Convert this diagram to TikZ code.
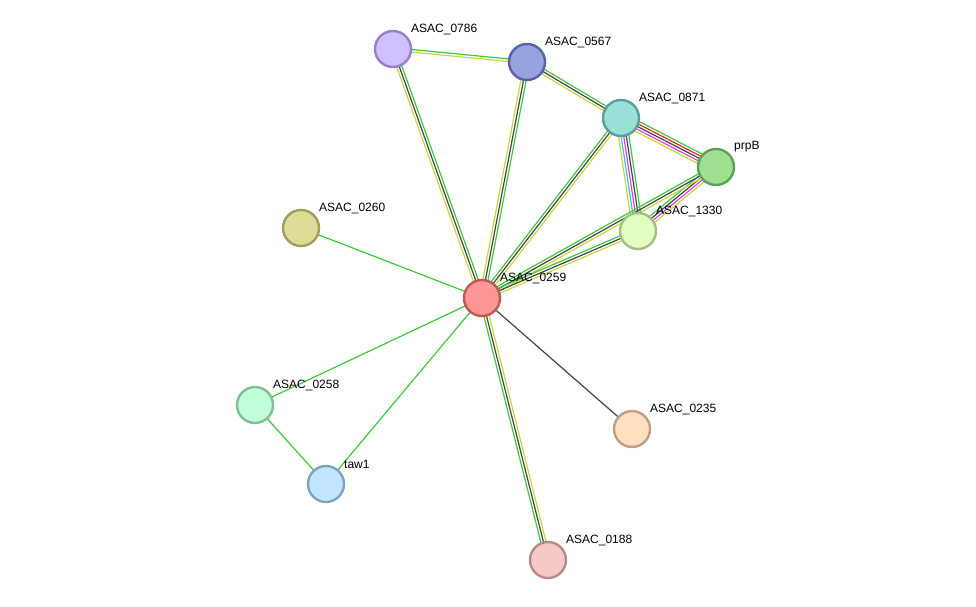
\documentclass[tikz,border=0pt]{standalone}
\usepackage{fontspec}
\setmainfont{Liberation Sans}
\usetikzlibrary{calc,backgrounds}
\definecolor{eg}{HTML}{3DC83D}
\definecolor{ek}{HTML}{454545}
\definecolor{ey}{HTML}{C5D83C}
\definecolor{er}{HTML}{E82828}
\definecolor{em}{HTML}{E040E0}
\definecolor{ec}{HTML}{3CC0E8}
\newcommand\medge[4]{%
  \foreach \cc [count=\ii] in {#4} {%
    \pgfmathsetmacro\off{(\ii-1-(#3-1)/2)*2.6}%
    \draw[\cc, line width=1.2pt] ($(#1.center)!\off pt!90:(#2.center)$) -- ($(#2.center)!\off pt!-90:(#1.center)$);
  }%
}
\tikzset{
  prot/.style={circle, minimum size=36pt, inner sep=0pt, line width=2.4pt},
  lbl/.style={anchor=west, inner sep=0pt, font=\fontsize{12}{14}\selectfont, text=black},
}
\begin{document}
\begin{tikzpicture}[x=1pt,y=-1pt]
\useasboundingbox (0,0) rectangle (976,606);
\node[prot, fill={rgb,255:red,208;green,191;blue,255}, draw={rgb,255:red,150;green,128;blue,200}] (a0786) at (393,49) {};
\node[prot, fill={rgb,255:red,152;green,162;blue,222}, draw={rgb,255:red,86;green,99;blue,168}] (a0567) at (527,62) {};
\node[prot, fill={rgb,255:red,152;green,224;blue,216}, draw={rgb,255:red,91;green,158;blue,154}] (a0871) at (621,118) {};
\node[prot, fill={rgb,255:red,160;green,224;blue,147}, draw={rgb,255:red,94;green,160;blue,90}] (prpB) at (716,167) {};
\node[prot, fill={rgb,255:red,224;green,255;blue,192}, draw={rgb,255:red,162;green,192;blue,132}] (a1330) at (638,231) {};
\node[prot, fill={rgb,255:red,223;green,220;blue,152}, draw={rgb,255:red,160;green,157;blue,94}] (a0260) at (301,228) {};
\node[prot, fill={rgb,255:red,255;green,150;blue,150}, draw={rgb,255:red,192;green,88;blue,88}] (a0259) at (482,298) {};
\node[prot, fill={rgb,255:red,194;green,255;blue,216}, draw={rgb,255:red,130;green,190;blue,152}] (a0258) at (255,405) {};
\node[prot, fill={rgb,255:red,194;green,230;blue,255}, draw={rgb,255:red,127;green,162;blue,190}] (taw1) at (326,484) {};
\node[prot, fill={rgb,255:red,255;green,223;blue,192}, draw={rgb,255:red,192;green,160;blue,128}] (a0235) at (632,429) {};
\node[prot, fill={rgb,255:red,248;green,200;blue,200}, draw={rgb,255:red,184;green,138;blue,138}] (a0188) at (548,560) {};
\begin{pgfonlayer}{background}
\medge{a0786}{a0567}{2}{ey,eg}
\medge{a0786}{a0259}{3}{ey,ek,eg}
\medge{a0567}{a0259}{3}{ey,ek,eg}
\medge{a0567}{a0871}{3}{ey,ek,eg}
\medge{a0871}{prpB}{5}{ey,em,ek,er,eg}
\medge{a0871}{a1330}{5}{ey,ec,em,ek,eg}
\medge{a0871}{a0259}{3}{eg,ek,ey}
\medge{prpB}{a1330}{4}{eg,ek,em,ey}
\medge{prpB}{a0259}{3}{eg,ek,ey}
\medge{a1330}{a0259}{3}{eg,ek,ey}
\medge{a0259}{a0188}{3}{eg,ek,ey}
\medge{a0260}{a0259}{1}{eg}
\medge{a0258}{a0259}{1}{eg}
\medge{taw1}{a0259}{1}{eg}
\medge{a0258}{taw1}{1}{eg}
\medge{a0235}{a0259}{1}{ek}
\end{pgfonlayer}
\foreach \n/\t in {a0786/ASAC\_0786, a0567/ASAC\_0567, a0871/ASAC\_0871, prpB/prpB, a1330/ASAC\_1330, a0260/ASAC\_0260, a0259/ASAC\_0259, a0258/ASAC\_0258, taw1/taw1, a0235/ASAC\_0235, a0188/ASAC\_0188}
  \node[lbl] (l\n) at ($(\n.center)+(18,-20)$) {\t};
\end{tikzpicture}
\end{document}
